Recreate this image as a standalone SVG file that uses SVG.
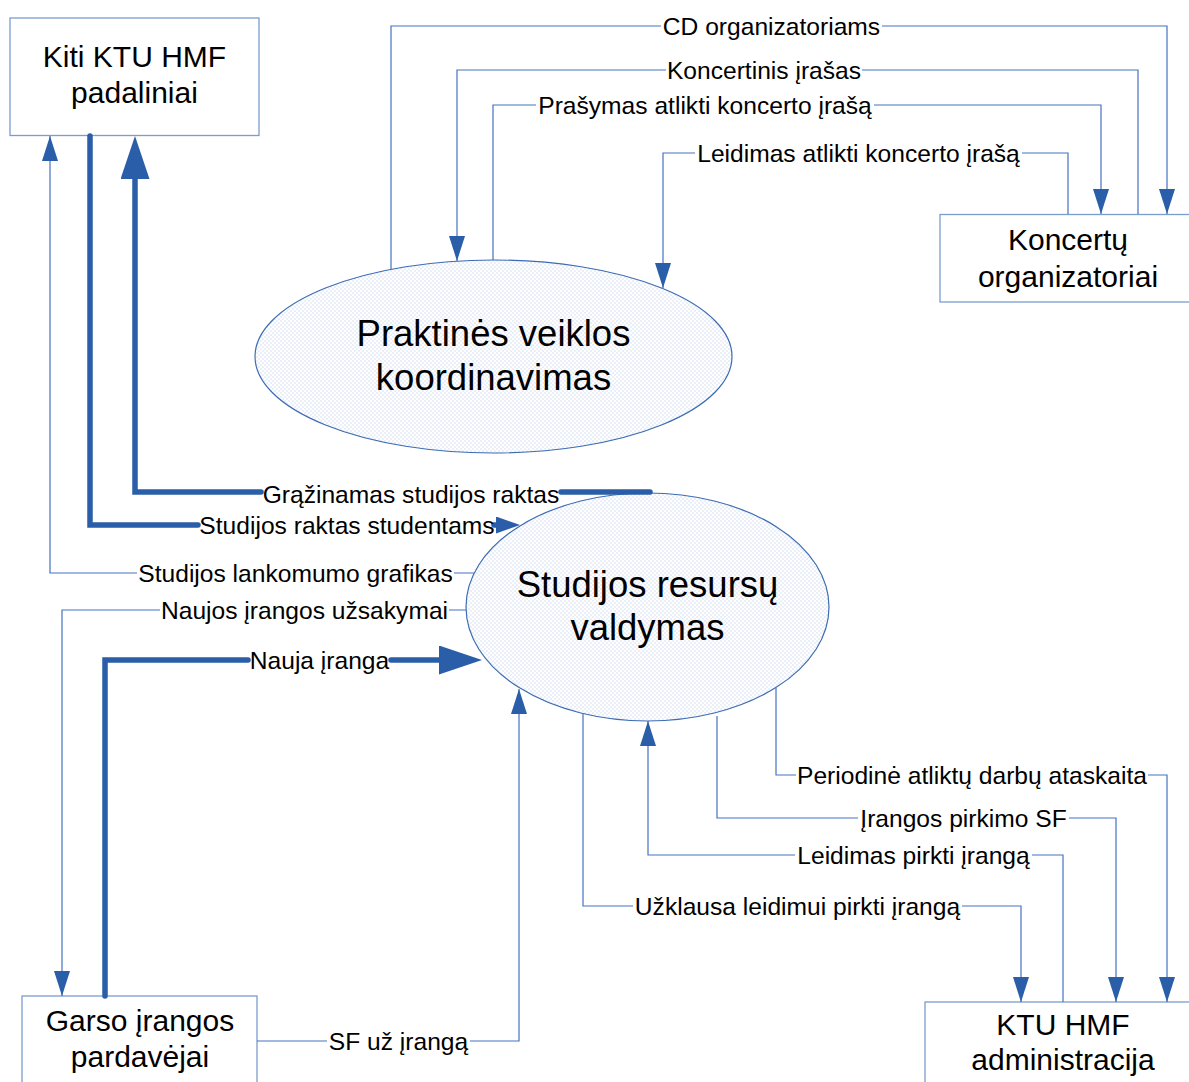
<svg xmlns="http://www.w3.org/2000/svg" width="1189" height="1082" viewBox="0 0 1189 1082">
  <style>
    .box { fill: #ffffff; stroke: #7a9dd0; stroke-width: 1.3; }
    .proc { fill: url(#dots); stroke: #3d6cb3; stroke-width: 1.2; }
    .name { font-family: "Liberation Sans", Arial, sans-serif; font-size: 30px; fill: #000; text-anchor: middle; }
    .pname { font-family: "Liberation Sans", Arial, sans-serif; font-size: 36.5px; fill: #000; text-anchor: middle; }
    .lbl { font-family: "Liberation Sans", Arial, sans-serif; font-size: 24.6px; fill: #000; text-anchor: middle; }
    .flow { fill: none; stroke: #4472c4; stroke-width: 1.2; }
    .thick { fill: none; stroke: #2b5ea8; stroke-width: 5.5; stroke-linecap: round; }
  </style>
  <defs>
    <pattern id="dots" width="4" height="4" patternUnits="userSpaceOnUse">
      <rect width="4" height="4" fill="#ffffff"/>
      <circle cx="1" cy="1" r="0.75" fill="#cbd9ee"/>
      <circle cx="3" cy="3" r="0.75" fill="#cbd9ee"/>
    </pattern>
    <marker id="arrowS" markerUnits="userSpaceOnUse" markerWidth="26" markerHeight="18" refX="25" refY="8" orient="auto">
      <path d="M0,0 L25,8 L0,16 z" fill="#2b5ea8"/>
    </marker>
    <marker id="arrowM" markerUnits="userSpaceOnUse" markerWidth="26" markerHeight="18" refX="1" refY="8.5" orient="auto">
      <path d="M0,0 L24,8.5 L0,17 z" fill="#2b5ea8"/>
    </marker>
    <marker id="arrowL" markerUnits="userSpaceOnUse" markerWidth="44" markerHeight="30" refX="2" refY="14.5" orient="auto">
      <path d="M0,0 L43,14.5 L0,29 z" fill="#2b5ea8"/>
    </marker>
  </defs>

  <rect width="1189" height="1082" fill="#ffffff"/>

  <!-- external entities and processes -->
  <g id="kiti-padaliniai">
    <rect class="box" x="10" y="18" width="249" height="117.5"/>
    <text class="name" x="134.5" y="67">Kiti KTU HMF</text>
    <text class="name" x="134.5" y="103">padaliniai</text>
  </g>
  <g id="koncertu-organizatoriai">
    <rect class="box" x="940" y="214.5" width="256" height="87.5"/>
    <text class="name" x="1068" y="250">Koncertų</text>
    <text class="name" x="1068" y="287">organizatoriai</text>
  </g>
  <g id="garso-pardavejai">
    <rect class="box" x="22" y="996" width="235" height="100"/>
    <text class="name" x="140" y="1031">Garso įrangos</text>
    <text class="name" x="140" y="1067">pardavėjai</text>
  </g>
  <g id="ktu-administracija">
    <rect class="box" x="925" y="1002" width="276" height="100"/>
    <text class="name" x="1063" y="1035">KTU HMF</text>
    <text class="name" x="1063" y="1070">administracija</text>
  </g>
  <g id="praktines-veiklos">
    <ellipse class="proc" cx="493.5" cy="356.5" rx="238.5" ry="96.5"/>
    <text class="pname" x="493.5" y="346">Praktinės veiklos</text>
    <text class="pname" x="493.5" y="390">koordinavimas</text>
  </g>
  <g id="studijos-resursu">
    <ellipse class="proc" cx="647.5" cy="607" rx="181.5" ry="114"/>
    <text class="pname" x="647.5" y="597">Studijos resursų</text>
    <text class="pname" x="647.5" y="640">valdymas</text>
  </g>

  <!-- data flows -->
  <g id="connectors">
    <path class="flow" d="M391,269 V26 H661 M882,26 H1167 V214" marker-end="url(#arrowS)"/>
    <path class="flow" d="M1138,214 V70 H862 M666,70 H457 V261" marker-end="url(#arrowS)"/>
    <path class="flow" d="M493,260 V105 H536 M874,105 H1101 V214" marker-end="url(#arrowS)"/>
    <path class="flow" d="M1068,214 V153 H1022 M695,153 H663 V288" marker-end="url(#arrowS)"/>

    <path class="thick" d="M650,492 H561 M261,492 H135 V177" marker-end="url(#arrowL)"/>
    <path class="thick" d="M90,136 V525 H198 M494,525 H497" marker-end="url(#arrowM)"/>
    <path class="flow" d="M474,573 H454 M137,573 H50 V136" marker-end="url(#arrowS)"/>
    <path class="flow" d="M466,610 H449 M160,610 H62 V996" marker-end="url(#arrowS)"/>
    <path class="thick" d="M105,996 V660 H248 M391,660 H441" marker-end="url(#arrowL)"/>
    <path class="flow" d="M257,1041 H327 M470,1041 H519 V689" marker-end="url(#arrowS)"/>

    <path class="flow" d="M776,688 V775 H796 M1148,775 H1167 V1002" marker-end="url(#arrowS)"/>
    <path class="flow" d="M717,716 V818 H858 M1069,818 H1116 V1002" marker-end="url(#arrowS)"/>
    <path class="flow" d="M1063,1002 V855 H1032 M795,855 H648 V721" marker-end="url(#arrowS)"/>
    <path class="flow" d="M583,714 V906 H633 M962,906 H1021 V1002" marker-end="url(#arrowS)"/>

    <text class="lbl" x="771.5" y="34.5">CD organizatoriams</text>
    <text class="lbl" x="764" y="78.5">Koncertinis įrašas</text>
    <text class="lbl" x="705" y="113.5">Prašymas atlikti koncerto įrašą</text>
    <text class="lbl" x="858.5" y="161.5">Leidimas atlikti koncerto įrašą</text>
    <text class="lbl" x="411" y="503">Grąžinamas studijos raktas</text>
    <text class="lbl" x="347" y="534">Studijos raktas studentams</text>
    <text class="lbl" x="295.5" y="581.5">Studijos lankomumo grafikas</text>
    <text class="lbl" x="304.5" y="618.5">Naujos įrangos užsakymai</text>
    <text class="lbl" x="319.5" y="668.5">Nauja įranga</text>
    <text class="lbl" x="398.5" y="1049.5">SF už įrangą</text>
    <text class="lbl" x="972" y="783.5">Periodinė atliktų darbų ataskaita</text>
    <text class="lbl" x="963.5" y="826.5">Įrangos pirkimo SF</text>
    <text class="lbl" x="913.5" y="863.5">Leidimas pirkti įrangą</text>
    <text class="lbl" x="797.5" y="914.5">Užklausa leidimui pirkti įrangą</text>
  </g>
</svg>
